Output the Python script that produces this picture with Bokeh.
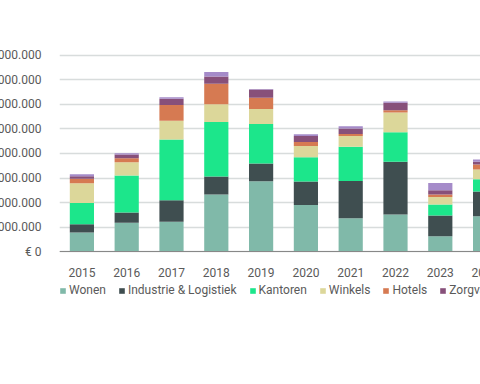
from bokeh.plotting import figure
from bokeh.models import ColumnDataSource, FixedTicker
from bokeh.embed import file_html
from bokeh.resources import INLINE

years = ["2015", "2016", "2017", "2018", "2019", "2020", "2021", "2022", "2023", "2024"]
categories = ["Wonen", "Industrie & Logistiek", "Kantoren", "Winkels", "Hotels", "Zorgvastgoed", "Overig"]
# values in billions of euro
wonen      = [0.78, 1.17, 1.22, 2.33, 2.87, 1.90, 1.36, 1.51, 0.62, 1.44]
industrie  = [0.33, 0.42, 0.87, 0.73, 0.72, 0.96, 1.52, 2.15, 0.85, 1.01]
kantoren   = [0.87, 1.51, 2.48, 2.22, 1.61, 0.99, 1.39, 1.21, 0.45, 0.50]
winkels    = [0.81, 0.54, 0.76, 0.73, 0.61, 0.46, 0.44, 0.80, 0.31, 0.40]
hotels     = [0.18, 0.17, 0.65, 0.83, 0.46, 0.16, 0.08, 0.09, 0.10, 0.20]
zorg       = [0.10, 0.15, 0.25, 0.30, 0.34, 0.24, 0.23, 0.31, 0.17, 0.11]
overig     = [0.08, 0.05, 0.06, 0.18, 0.02, 0.07, 0.09, 0.05, 0.30, 0.09]
y_ticks = [0, 1, 2, 3, 4, 5, 6, 7, 8]
y_tick_labels = ["€ 0", "€ 1.000.000.000", "€ 2.000.000.000", "€ 3.000.000.000", "€ 4.000.000.000",
                 "€ 5.000.000.000", "€ 6.000.000.000", "€ 7.000.000.000", "€ 8.000.000.000"]

colors = ["#80b9a9", "#3f4e50", "#1ce68b", "#dcd79a", "#d67a52", "#87507a", "#a58bc9"]
FONT = "Roboto"
TXT = "#5a5a5a"

data = {"year": years}
keys = ["wonen", "industrie", "kantoren", "winkels", "hotels", "zorg", "overig"]
for k, v in zip(keys, [wonen, industrie, kantoren, winkels, hotels, zorg, overig]):
    data[k] = v
source = ColumnDataSource(data)

# frame extends below zero so the legend sits inside the frame
p = figure(x_range=years, y_range=(-2.2, 8.2), frame_width=448, frame_height=255,
           output_backend="svg", toolbar_location=None,
           min_border_top=50, min_border_bottom=10, min_border_right=10, min_border_left=0)
p.margin = (0, 0, 0, -49)
p.outline_line_color = None

renderers = p.vbar_stack(keys, x="year", width=0.54, source=source, color=colors,
                         line_color=None, legend_label=categories)

p.xgrid.grid_line_color = None
p.ygrid.grid_line_color = "#d8dcdc"
p.ygrid.grid_line_width = 1.5
p.ygrid.ticker = FixedTicker(ticks=y_ticks)
p.yaxis.ticker = FixedTicker(ticks=y_ticks)
p.yaxis.major_label_overrides = {t: l for t, l in zip(y_ticks, y_tick_labels)}
p.yaxis.axis_line_color = None
p.yaxis.major_tick_line_color = None
p.yaxis.minor_tick_line_color = None
p.yaxis.major_label_standoff = 12
p.xaxis.fixed_location = 0
p.xaxis.axis_line_color = "#888888"
p.xaxis.major_tick_line_color = None
p.xaxis.major_label_standoff = 10
for ax in (p.xaxis, p.yaxis):
    ax.major_label_text_font = FONT
    ax.major_label_text_font_size = "12px"
    ax.major_label_text_color = TXT

leg = p.legend[0]
leg.orientation = "horizontal"
leg.location = (0, 8)
leg.glyph_width = 7
leg.glyph_height = 7
leg.label_standoff = 3
leg.spacing = 12
leg.padding = 0
leg.margin = 0
leg.border_line_color = None
leg.background_fill_alpha = 0
leg.label_text_font = FONT
leg.label_text_font_size = "12px"
leg.label_text_color = TXT

open("out.html", "w").write(file_html(p, INLINE))
